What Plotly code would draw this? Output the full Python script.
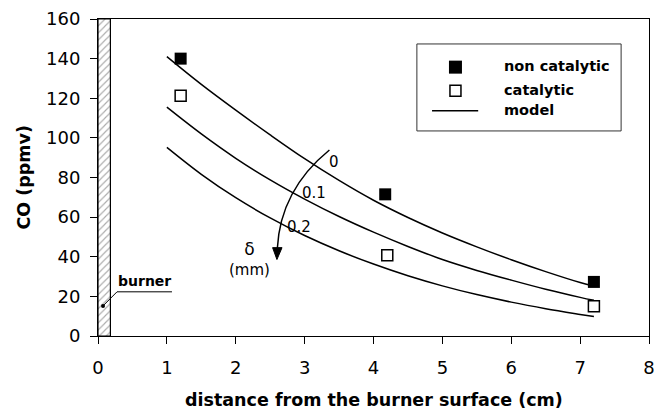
import plotly.graph_objects as go

# Measured CO concentrations (ppmv) versus distance from the burner surface (cm)
noncat_x = [1.2, 4.17, 7.2]
noncat_y = [140, 71.5, 27.3]
cat_x = [1.2, 4.2, 7.2]
cat_y = [121.3, 40.8, 15.0]

# Model predictions for different catalyst layer thickness delta (mm)
model_x = [1.0, 1.5, 2.0, 2.5, 3.0, 3.5, 4.0, 4.5, 5.0, 5.5, 6.0, 6.5, 7.0, 7.2]
model_d0 = [141, 127, 114, 101.5, 89.5, 78.5, 68.5, 59.8, 52, 45, 38.5, 32.5, 27, 25.2]
model_d01 = [115.5, 102, 89.7, 78.8, 69.1, 60.3, 52.4, 45.2, 38.6, 33.1, 28.2, 23.6, 19.5, 18]
model_d02 = [95.2, 81.6, 69.8, 59.6, 50.7, 43.0, 36.3, 30.4, 25.3, 20.9, 17.1, 13.8, 10.9, 9.8]
delta_labels = ["0", "0.1", "0.2"]

# Burner wall extent
burner_x = [0, 0.18]
burner_y = [0, 160]

x_ticks = [0, 1, 2, 3, 4, 5, 6, 7, 8]
y_ticks = [0, 20, 40, 60, 80, 100, 120, 140, 160]

FONT = "DejaVu Sans"

fig = go.Figure()

# hatched burner wall
fig.add_trace(go.Scatter(
    x=[burner_x[0], burner_x[1], burner_x[1], burner_x[0], burner_x[0]],
    y=[burner_y[0], burner_y[0], burner_y[1], burner_y[1], burner_y[0]],
    mode="lines", fill="toself",
    line=dict(color="black", width=1.2),
    fillcolor="white",
    fillpattern=dict(shape="/", fgcolor="#555555", bgcolor="white", size=5, solidity=0.22),
    hoverinfo="skip", showlegend=False,
))

for ys in (model_d0, model_d01, model_d02):
    fig.add_trace(go.Scatter(
        x=model_x, y=ys, mode="lines", name="model",
        line=dict(color="black", width=1.5, shape="spline", smoothing=1.0),
        showlegend=False,
    ))

fig.add_trace(go.Scatter(
    x=noncat_x, y=noncat_y, mode="markers", name="non catalytic",
    marker=dict(symbol="square", size=12, color="black", line=dict(width=0)),
    showlegend=False,
))
fig.add_trace(go.Scatter(
    x=cat_x, y=cat_y, mode="markers", name="catalytic",
    marker=dict(symbol="square-open", size=11, color="black", line=dict(width=1.5)),
    showlegend=False,
))

shapes = []
annotations = []

# curved arrow indicating increasing delta, with a filled head
shapes.append(dict(
    type="path", xref="x", yref="y",
    path="M 3.36,93.9 Q 2.646,73.7 2.603,44",
    line=dict(color="black", width=1.5),
))
shapes.append(dict(
    type="path", xref="x", yref="y",
    path="M 2.598,38.6 L 2.535,44.6 L 2.672,44.6 Z",
    fillcolor="black", line=dict(color="black", width=1),
))

# curve labels
for lbl, (lx, ly) in zip(delta_labels, [(3.33, 88), (2.93, 72), (2.72, 55)]):
    annotations.append(dict(x=lx, y=ly, xref="x", yref="y", text=lbl, showarrow=False,
                            xanchor="left", yanchor="middle",
                            font=dict(family=FONT, size=15, color="black")))
annotations.append(dict(x=2.2, y=38.8, xref="x", yref="y",
                        text="<span style='font-size:17px'>δ</span><br>"
                             "<span style='font-size:15px'>(mm)</span>",
                        showarrow=False, align="center",
                        font=dict(family=FONT, size=15, color="black")))

# burner label with leader line
annotations.append(dict(x=0.675, y=22.6, xref="x", yref="y", text="burner", showarrow=False,
                        yanchor="bottom",
                        font=dict(family=FONT, size=14, color="black", weight="bold")))
shapes.append(dict(type="path", xref="x", yref="y",
                   path="M 0.073,15.2 L 0.276,22.3 L 1.074,22.3",
                   line=dict(color="black", width=1)))
shapes.append(dict(type="circle", xref="x", yref="y", xsizemode="pixel", ysizemode="pixel",
                   xanchor=0.073, yanchor=15.2, x0=-2, x1=2, y0=-2, y1=2,
                   fillcolor="black", line=dict(color="black", width=0)))

# legend box
shapes.append(dict(type="rect", xref="x", yref="y", x0=4.63, x1=7.595, y0=103.5, y1=147.4,
                   line=dict(color="#333333", width=1), fillcolor="white", layer="below"))
shapes.append(dict(type="rect", xref="x", yref="y", xsizemode="pixel", ysizemode="pixel",
                   xanchor=5.19, yanchor=135.7, x0=-6.5, x1=6.5, y0=-6.5, y1=6.5,
                   fillcolor="black", line=dict(width=0)))
shapes.append(dict(type="rect", xref="x", yref="y", xsizemode="pixel", ysizemode="pixel",
                   xanchor=5.19, yanchor=123.8, x0=-5.5, x1=5.5, y0=-5.5, y1=5.5,
                   fillcolor="white", line=dict(color="black", width=1.5)))
shapes.append(dict(type="line", xref="x", yref="y", x0=4.85, x1=5.52, y0=113.7, y1=113.7,
                   line=dict(color="black", width=1.5)))
for txt, ty in [("non catalytic", 136.5), ("catalytic", 124.0), ("model", 114.0)]:
    annotations.append(dict(x=5.86, y=ty, xref="x", yref="y", text=txt, showarrow=False,
                            xanchor="left", yanchor="middle",
                            font=dict(family=FONT, size=14.5, color="black", weight="bold")))

# axis titles
annotations.append(dict(x=0.5, y=-0.203, xref="paper", yref="paper",
                        text="distance from the burner surface (cm)", showarrow=False,
                        xanchor="center", yanchor="middle",
                        font=dict(family=FONT, size=17.5, color="black", weight="bold")))
annotations.append(dict(x=-0.136, y=0.5, xref="paper", yref="paper",
                        text="CO (ppmv)", showarrow=False, textangle=-90,
                        xanchor="center", yanchor="middle",
                        font=dict(family=FONT, size=17.5, color="black", weight="bold")))

fig.update_layout(
    width=654, height=415,
    margin=dict(l=98, r=5, t=19, b=79, autoexpand=False),
    paper_bgcolor="white", plot_bgcolor="white",
    showlegend=False,
    shapes=shapes, annotations=annotations,
)
fig.update_xaxes(
    range=[0, 8], tickvals=x_ticks, ticktext=[str(v) for v in x_ticks],
    ticks="outside", ticklen=7, tickwidth=1, tickcolor="black",
    showline=True, linecolor="black", linewidth=1, mirror=True,
    showgrid=False, zeroline=False, ticklabelstandoff=8,
    ticklabeloverflow="allow", automargin=False,
    tickfont=dict(family=FONT, size=18, color="black"),
)
fig.update_yaxes(
    range=[0, 160], tickvals=y_ticks, ticktext=[str(v) for v in y_ticks],
    ticks="outside", ticklen=7, tickwidth=1, tickcolor="black",
    showline=True, linecolor="black", linewidth=1, mirror=True,
    showgrid=False, zeroline=False, ticklabelstandoff=6, automargin=False,
    tickfont=dict(family=FONT, size=18, color="black"),
)

fig.write_html("out.html")
